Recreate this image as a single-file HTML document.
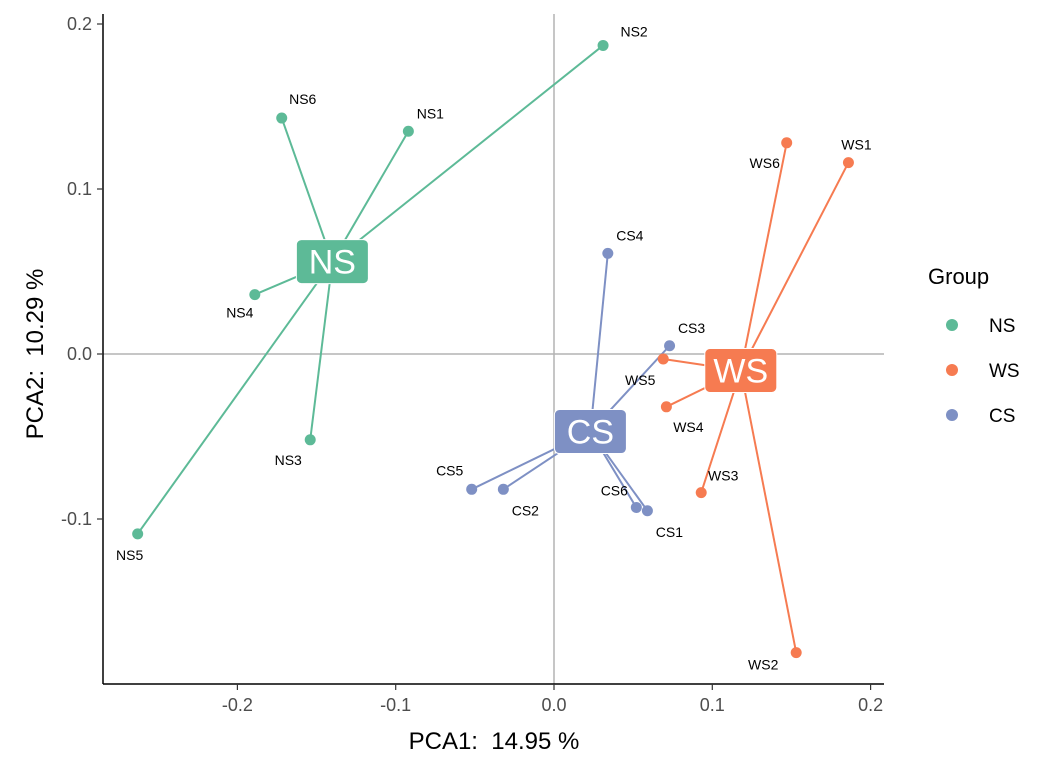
<!DOCTYPE html>
<html><head><meta charset="utf-8"><style>
html,body{margin:0;padding:0;background:#fff;}
svg{display:block;font-family:"Liberation Sans",Arial,sans-serif;}
.pre{white-space:pre;}
</style></head><body>
<svg id="chart" width="1056" height="768"></svg>
<script>
const groups = ["NS","WS","CS"];
const groupColors = ["#5dba97","#f67b51","#7e90c4"];
const sampleNames = ["NS1","NS2","NS3","NS4","NS5","NS6","WS1","WS2","WS3","WS4","WS5","WS6","CS1","CS2","CS3","CS4","CS5","CS6"];
const sampleGroup = ["NS","NS","NS","NS","NS","NS","WS","WS","WS","WS","WS","WS","CS","CS","CS","CS","CS","CS"];
const pca1 = [-0.092,0.031,-0.154,-0.189,-0.263,-0.172, 0.186,0.153,0.093,0.071,0.069,0.147, 0.059,-0.032,0.073,0.034,-0.052,0.052];
const pca2 = [0.135,0.187,-0.052,0.036,-0.109,0.143, 0.116,-0.181,-0.084,-0.032,-0.003,0.128, -0.095,-0.082,0.005,0.061,-0.082,-0.093];
const centroidX = [-0.140,0.118,0.023];
const centroidY = [0.056,-0.010,-0.047];
const xTicks = [-0.2,-0.1,0.0,0.1,0.2];
const yTicks = [-0.1,0.0,0.1,0.2];
const xTickLabels = ["-0.2","-0.1","0.0","0.1","0.2"];
const yTickLabels = ["-0.1","0.0","0.1","0.2"];
// label offsets (layout only)
const labelDX = [22,31,-22,-15,-8,21, 8,-33,22,22,-23,-22, 22,22,22,22,-22,-22];
const labelDY = [-18,-14,20,18,21,-19, -18,12,-17,20,21,20, 21,21,-18,-18,-19,-17];

const NS="http://www.w3.org/2000/svg";
const svg=document.getElementById('chart');
function xs(v){return 554+v*1583;}
function ys(v){return 354-v*1650;}
function mk(tag,attrs,parent){const e=document.createElementNS(NS,tag);for(const k in attrs)e.setAttribute(k,attrs[k]);(parent||svg).appendChild(e);return e;}
function txt(s,attrs,parent){const e=mk('text',attrs,parent);e.textContent=s;return e;}

let l=mk('line',{x1:xs(0),x2:xs(0),y1:14,y2:684,stroke:'#b3b3b3','stroke-width':1.5});


l=mk('line',{x1:103,x2:884,y1:ys(0),y2:ys(0),stroke:'#b3b3b3','stroke-width':1.5});



l=mk('line',{x1:103,x2:884,y1:684,y2:684,stroke:'#000','stroke-width':1.5});


l=mk('line',{x1:103,x2:103,y1:14,y2:684,stroke:'#000','stroke-width':1.5});


xTicks.forEach((t,i)=>{
  mk('line',{x1:xs(t),x2:xs(t),y1:684,y2:690,stroke:'#333','stroke-width':1.2});
  const e=txt(xTickLabels[i],{x:xs(t),y:711,'text-anchor':'middle','font-size':18,fill:'#4d4d4d'});
  
  
});
yTicks.forEach((t,i)=>{
  mk('line',{x1:97,x2:103,y1:ys(t),y2:ys(t),stroke:'#333','stroke-width':1.2});
  const e=txt(yTickLabels[i],{x:92,y:ys(t)+6,'text-anchor':'end','font-size':18,fill:'#4d4d4d'});
  
  
});
let t=txt('PCA1:  14.95 %',{x:494,y:749,'text-anchor':'middle','font-size':24,fill:'#000','class':'pre'});


t=txt('PCA2:  10.29 %',{x:0,y:0,'text-anchor':'middle','font-size':24,fill:'#000',transform:'translate(43,354) rotate(-90)','class':'pre'});



sampleNames.forEach((n,i)=>{
  const g=groups.indexOf(sampleGroup[i]);
  const s=mk('line',{x1:xs(centroidX[g]),y1:ys(centroidY[g]),x2:xs(pca1[i]),y2:ys(pca2[i]),stroke:groupColors[g],'stroke-width':2});
  
  
});
sampleNames.forEach((n,i)=>{
  const g=groups.indexOf(sampleGroup[i]);
  const c=mk('circle',{cx:xs(pca1[i]),cy:ys(pca2[i]),r:5.5,fill:groupColors[g]});
  
  
  const e=txt(n,{x:xs(pca1[i])+labelDX[i],y:ys(pca2[i])+labelDY[i]+5,'text-anchor':'middle','font-size':14,fill:'#000'});
  
  
});
groups.forEach((gname,g)=>{
  const cx=xs(centroidX[g]),cy=ys(centroidY[g]);
  const r=mk('rect',{x:cx-36,y:cy-22,width:72,height:44,rx:5,fill:groupColors[g],stroke:'#fff','stroke-width':1});
  
  
  const e=txt(gname,{x:cx,y:cy+12,'text-anchor':'middle','font-size':34,fill:'#fff'});
  
  
});
t=txt('Group',{x:928,y:284,'font-size':22,fill:'#000'});


groups.forEach((gname,g)=>{
  const y=325+g*45;
  const c=mk('circle',{cx:952,cy:y,r:6,fill:groupColors[g]});
  
  
  const e=txt(gname,{x:989,y:y+7,'font-size':19,fill:'#000'});
  
  
});
</script>
</body></html>
